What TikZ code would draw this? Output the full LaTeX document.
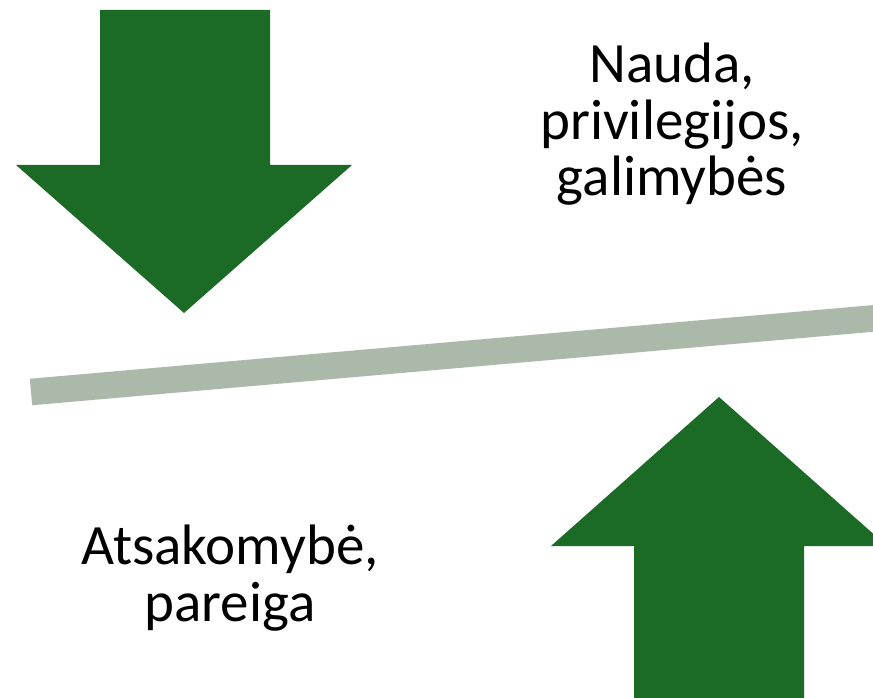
\documentclass[tikz,border=0pt]{standalone}
\usepackage{fontspec}
\setmainfont{Carlito}
\definecolor{arrowgreen}{RGB}{27,107,38}
\definecolor{bargray}{RGB}{170,185,170}

\begin{document}
\begin{tikzpicture}[x=1pt,y=-1pt]
\tikzset{bigarrow/.style = {fill=arrowgreen}}
\tikzset{bar/.style = {draw=bargray, line width=26.6pt, line cap=butt}}
\tikzset{caption/.style = {align=center, anchor=base, inner sep=0pt, font=\fontsize{57}{57}\selectfont}}
\useasboundingbox (0,0) rectangle (873,698);
\clip (0,0) rectangle (873,698);
% arrow pushing down
\fill[bigarrow] (100,10) -- (270,10) -- (270,165) -- (352,165) -- (184,313)
  -- (16,165) -- (100,165) -- cycle;
% arrow pushing up
\fill[bigarrow] (634,720) -- (634,546) -- (551,546) -- (719,397) -- (887,546)
  -- (804,546) -- (804,720) -- cycle;
% the tilted bar
\coordinate (barleft) at (31,392);
\coordinate (barright) at (900,316.1);
\draw[bar] (barleft) -- (barright);
\node[caption](benefit) at (672,196) {Nauda,\\privilegijos,\\galimybės};
\node[caption](duty) at (230,621) {Atsakomybė,\\pareiga};
\end{tikzpicture}
\end{document}
